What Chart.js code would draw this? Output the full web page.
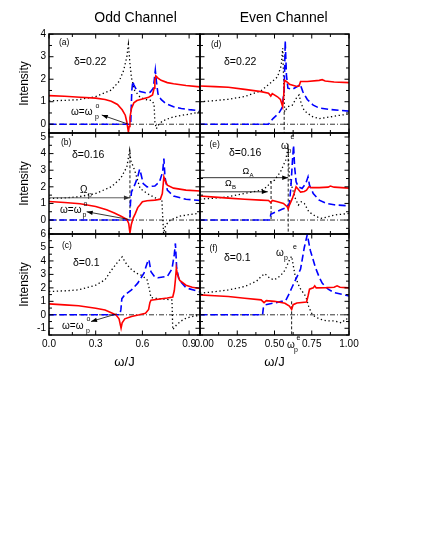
<!DOCTYPE html>
<html>
<head>
<meta charset="utf-8">
<script src="https://cdn.jsdelivr.net/npm/chart.js@4.4.0/dist/chart.umd.min.js"></script>
<style>
  body { margin: 0; background: #fff; }
  #wrap { position: relative; width: 425px; height: 550px; }
  #wrap canvas { position: absolute; left: 0; top: 0; }
</style>
</head>
<body>
<div id="wrap">
  <canvas id="pa" width="425" height="550"></canvas>
  <canvas id="pb" width="425" height="550"></canvas>
  <canvas id="pc" width="425" height="550"></canvas>
  <canvas id="pd" width="425" height="550"></canvas>
  <canvas id="pe" width="425" height="550"></canvas>
  <canvas id="pf" width="425" height="550"></canvas>
</div>
<script>
// ---- data: [omega/J, intensity] ----
// odd channel, delta = 0.22
const aRed = [[0,1.27],[0.1,1.24],[0.2,1.2],[0.3,1.16],[0.36,1.1],[0.4,1.02],[0.44,0.88],[0.47,0.64],[0.49,0.4],[0.5,0.1],[0.51,-0.35],[0.515,-0.1],[0.52,0.3],[0.53,0.7],[0.545,0.95],[0.565,1.05],[0.6,1.12],[0.64,1.2],[0.665,1.3],[0.675,1.6],[0.68,1.95],[0.686,2.15],[0.7,2.05],[0.72,1.95],[0.76,1.85],[0.8,1.8],[0.88,1.72],[0.97,1.66]];
const aBlue = [[0,0],[0.525,0],[0.527,0.5],[0.532,1.5],[0.538,1.9],[0.545,1.75],[0.56,1.55],[0.585,1.45],[0.62,1.4],[0.65,1.42],[0.67,1.6],[0.683,2.4],[0.69,1.9],[0.7,1.35],[0.72,1.1],[0.75,0.92],[0.8,0.78],[0.85,0.7],[0.9,0.65],[0.97,0.6]];
const aDot = [[0,1.04],[0.1,1.06],[0.19,1.09],[0.3,1.23],[0.4,1.52],[0.45,1.9],[0.48,2.4],[0.5,3.0],[0.51,3.55],[0.52,2.7],[0.53,2.05],[0.55,1.5],[0.585,1.2],[0.62,1.1],[0.66,1.05],[0.675,0.9],[0.68,0.1],[0.69,-0.2],[0.7,-0.05],[0.73,0.15],[0.8,0.33],[0.9,0.45],[0.97,0.55]];

// odd channel, delta = 0.16
const bRed = [[0,1.12],[0.1,1.06],[0.2,0.98],[0.3,0.82],[0.37,0.62],[0.42,0.42],[0.46,0.24],[0.5,0.04],[0.512,-0.2],[0.52,-0.78],[0.528,-0.3],[0.54,0.1],[0.555,0.4],[0.57,0.75],[0.585,0.92],[0.6,1.1],[0.63,1.16],[0.68,1.2],[0.715,1.25],[0.728,1.6],[0.738,2.6],[0.745,2.4],[0.76,2.1],[0.8,1.92],[0.88,1.8],[0.97,1.75]];
const bBlue = [[0,0],[0.52,0],[0.523,1.0],[0.53,1.7],[0.55,2.1],[0.57,2.6],[0.582,3.05],[0.59,2.8],[0.605,2.2],[0.63,2.0],[0.68,2.05],[0.71,2.3],[0.73,2.9],[0.738,3.7],[0.745,2.6],[0.76,1.8],[0.8,1.45],[0.88,1.25],[0.97,1.18]];
const bDot = [[0,1.3],[0.1,1.33],[0.19,1.4],[0.3,1.6],[0.4,2.0],[0.46,2.5],[0.5,3.2],[0.518,4.2],[0.525,3.6],[0.55,3.0],[0.585,1.9],[0.63,1.6],[0.69,1.3],[0.725,1.2],[0.736,-0.8],[0.75,-0.3],[0.78,0.0],[0.84,0.24],[0.97,0.42]];
const bMark = [[0.52,4.2],[0.52,0]];

// odd channel, delta = 0.1
const cRed = [[0,0.81],[0.1,0.74],[0.19,0.67],[0.3,0.49],[0.36,0.35],[0.4,0.15],[0.43,0.0],[0.45,-0.3],[0.463,-0.99],[0.47,-0.6],[0.487,-0.3],[0.53,-0.12],[0.58,0.0],[0.62,0.12],[0.64,0.4],[0.648,0.9],[0.655,1.08],[0.7,1.16],[0.76,1.25],[0.795,1.32],[0.805,1.8],[0.812,2.6],[0.818,3.45],[0.825,3.0],[0.84,2.55],[0.88,2.2],[0.92,2.05],[0.97,1.95]];
const cBlue = [[0,0],[0.455,0],[0.462,0.4],[0.468,1.2],[0.487,1.48],[0.53,1.85],[0.57,2.35],[0.61,3.1],[0.635,4.0],[0.642,4.1],[0.655,3.2],[0.68,2.8],[0.7,2.75],[0.76,2.85],[0.79,3.4],[0.805,4.5],[0.812,5.3],[0.82,3.5],[0.835,2.6],[0.88,2.0],[0.97,1.7]];
const cDot = [[0,1.73],[0.1,1.78],[0.19,1.85],[0.3,2.2],[0.36,2.6],[0.4,3.3],[0.44,3.9],[0.47,4.3],[0.49,3.9],[0.52,3.46],[0.56,3.1],[0.6,2.9],[0.63,2.6],[0.645,1.9],[0.655,1.28],[0.7,1.2],[0.75,1.15],[0.79,1.1],[0.795,-1.1],[0.82,-0.74],[0.85,-0.45],[0.88,-0.25],[0.93,-0.1],[0.97,-0.05]];

// even channel, delta = 0.22
const dRed = [[0,1.7],[0.1,1.67],[0.19,1.64],[0.3,1.55],[0.41,1.45],[0.46,1.38],[0.475,1.25],[0.485,1.36],[0.52,1.22],[0.54,1.1],[0.555,0.78],[0.562,1.3],[0.567,1.95],[0.58,1.9],[0.6,1.78],[0.65,1.68],[0.665,1.7],[0.675,1.9],[0.72,1.9],[0.8,1.95],[0.82,1.98],[0.84,1.92],[0.9,1.88],[1.0,1.85]];
const dBlue = [[0,0],[0.46,0],[0.49,0.25],[0.53,0.5],[0.55,0.72],[0.565,1.5],[0.572,3.7],[0.58,2.2],[0.59,1.6],[0.62,1.55],[0.66,1.7],[0.672,1.78],[0.69,1.45],[0.72,1.1],[0.76,0.85],[0.8,0.72],[0.88,0.65],[1.0,0.58]];
const dDot = [[0,1.0],[0.1,1.05],[0.19,1.11],[0.3,1.23],[0.41,1.49],[0.47,1.82],[0.52,2.1],[0.545,2.6],[0.555,3.38],[0.568,0.55],[0.59,0.78],[0.62,0.85],[0.65,1.2],[0.665,1.3],[0.68,0.9],[0.7,0.6],[0.75,0.35],[0.8,0.25],[0.85,0.3],[0.92,0.38],[1.0,0.45]];
const dMark = [[0.565,0.55],[0.565,-0.4]];

// even channel, delta = 0.16
const eRed = [[0,1.45],[0.1,1.38],[0.19,1.32],[0.3,1.25],[0.41,1.2],[0.46,1.18],[0.475,1.05],[0.485,1.18],[0.52,1.1],[0.56,1.0],[0.585,0.8],[0.592,0.66],[0.6,0.9],[0.62,1.3],[0.635,1.7],[0.645,2.0],[0.655,1.9],[0.675,1.68],[0.7,1.72],[0.715,1.8],[0.73,2.0],[0.75,1.95],[0.8,1.95],[0.86,1.98],[0.875,2.05],[0.9,1.98],[1.0,1.92]];
const eBlue = [[0,0],[0.47,0],[0.475,0.35],[0.5,0.45],[0.55,0.65],[0.58,0.75],[0.6,1.0],[0.61,2.0],[0.62,3.5],[0.628,4.5],[0.635,3.2],[0.645,2.3],[0.66,2.0],[0.685,1.9],[0.71,2.2],[0.725,2.6],[0.735,2.1],[0.76,1.6],[0.8,1.2],[0.85,1.0],[0.9,0.92],[1.0,0.85]];
const eDot = [[0,1.26],[0.1,1.32],[0.19,1.4],[0.3,1.6],[0.41,1.8],[0.45,2.0],[0.475,2.3],[0.5,2.4],[0.54,2.9],[0.575,3.6],[0.59,4.3],[0.6,2.6],[0.62,1.9],[0.64,1.3],[0.66,0.9],[0.68,1.1],[0.7,1.0],[0.73,0.5],[0.78,0.2],[0.82,0.1],[0.9,0.3],[1.0,0.4]];
const eMarkA = [[0.592,4.3],[0.592,-0.85]];
const eMarkB = [[0.477,2.35],[0.477,0]];

// even channel, delta = 0.1
const fRed = [[0,1.48],[0.1,1.42],[0.19,1.36],[0.3,1.23],[0.41,1.11],[0.43,0.9],[0.445,1.05],[0.5,1.0],[0.57,0.86],[0.6,0.65],[0.615,0.4],[0.625,0.75],[0.65,0.88],[0.715,0.95],[0.725,1.4],[0.735,1.9],[0.76,2.0],[0.77,2.15],[0.78,2.0],[0.85,2.02],[0.9,2.05],[0.92,2.15],[0.94,2.05],[1.0,2.0]];
const fBlue = [[0,0],[0.42,0],[0.425,0.5],[0.44,0.75],[0.5,0.88],[0.55,1.0],[0.575,1.05],[0.6,1.6],[0.62,2.1],[0.65,2.8],[0.675,3.4],[0.7,5.0],[0.72,5.95],[0.74,4.8],[0.775,3.5],[0.8,2.8],[0.82,2.35],[0.86,1.9],[0.9,1.65],[1.0,1.4]];
const fDot = [[0,1.6],[0.1,1.72],[0.19,1.85],[0.3,2.1],[0.38,2.5],[0.41,2.84],[0.435,3.05],[0.47,2.7],[0.5,2.6],[0.54,2.9],[0.57,3.3],[0.6,4.07],[0.615,4.35],[0.64,2.8],[0.67,2.0],[0.71,1.36],[0.73,0.6],[0.75,0.1],[0.77,-0.12],[0.8,-0.3],[0.85,-0.45],[0.9,-0.45],[0.95,-0.6],[0.98,-0.3],[1.0,-0.35]];
const fMark = [[0.615,1.0],[0.615,-1.5]];

const zeroLine = [[0,0],[1,0]];

// ---- styles ----
const FONT = "'Liberation Sans', Arial, Helvetica, sans-serif";
Chart.defaults.font.family = FONT;
Chart.defaults.color = '#000';

const RED = { borderColor: '#ff0000', borderWidth: 1.6 };
const BLUE = { borderColor: '#0000ff', borderWidth: 1.6, borderDash: [7, 3.5] };
const DOT = { borderColor: '#000', borderWidth: 1.3, borderDash: [1.3, 2.6] };
const DASHDOT = { borderColor: '#000', borderWidth: 0.8, borderDash: [5, 2, 1, 2] };
const MARK = { borderColor: '#000', borderWidth: 0.9, borderDash: [3, 2] };

function series(pts, style) {
  return Object.assign({ data: pts.map(p => ({ x: p[0], y: p[1] })), pointRadius: 0, tension: 0, fill: false }, style);
}

// frame, inward ticks, labels and arrows
function deco(notes, arrows) {
  return {
    id: 'deco',
    afterDatasetsDraw(chart) {
      const { ctx, chartArea: a, scales: { x, y } } = chart;
      const halfSteps = s => {
        const major = s.ticks.map(t => t.value);
        const step = major[1] - major[0];
        const out = [];
        for (let v = major[0] - step / 2; v <= s.max + 1e-9; v += step / 2) {
          if (v < s.min - 1e-9) continue;
          const isMajor = major.some(m => Math.abs(m - v) < 1e-6);
          out.push([v, isMajor ? 4.5 : 3]);
        }
        return out;
      };
      ctx.save();
      ctx.strokeStyle = '#000';
      ctx.lineWidth = 1;
      ctx.beginPath();
      halfSteps(x).forEach(([v, len]) => {
        const p = x.getPixelForValue(v);
        ctx.moveTo(p, a.bottom); ctx.lineTo(p, a.bottom - len);
        ctx.moveTo(p, a.top); ctx.lineTo(p, a.top + len);
      });
      halfSteps(y).forEach(([v, len]) => {
        const p = y.getPixelForValue(v);
        ctx.moveTo(a.left, p); ctx.lineTo(a.left + len, p);
        ctx.moveTo(a.right, p); ctx.lineTo(a.right - len, p);
      });
      ctx.stroke();
      ctx.lineWidth = 1.5;
      ctx.strokeRect(a.left, a.top, a.right - a.left, a.bottom - a.top);

      arrows.forEach(ar => {
        const x0 = x.getPixelForValue(ar.from[0]), y0 = y.getPixelForValue(ar.from[1]);
        const x1 = x.getPixelForValue(ar.to[0]), y1 = y.getPixelForValue(ar.to[1]);
        const ang = Math.atan2(y1 - y0, x1 - x0);
        ctx.strokeStyle = ar.c || '#000';
        ctx.fillStyle = ar.c || '#000';
        ctx.lineWidth = 0.8;
        ctx.beginPath(); ctx.moveTo(x0, y0); ctx.lineTo(x1, y1); ctx.stroke();
        ctx.beginPath();
        ctx.moveTo(x1, y1);
        ctx.lineTo(x1 - 6 * Math.cos(ang) + 2.2 * Math.sin(ang), y1 - 6 * Math.sin(ang) - 2.2 * Math.cos(ang));
        ctx.lineTo(x1 - 6 * Math.cos(ang) - 2.2 * Math.sin(ang), y1 - 6 * Math.sin(ang) + 2.2 * Math.cos(ang));
        ctx.closePath(); ctx.fill();
      });

      ctx.fillStyle = '#000';
      ctx.textBaseline = 'middle';
      notes.forEach(n => {
        ctx.font = n.s + 'px ' + FONT;
        ctx.textAlign = n.al || 'left';
        ctx.fillText(n.t, n.x, n.y);
      });
      ctx.restore();
    }
  };
}

const COLS = [[49, 200, 0.97, 0.3, 1], [200, 349, 1, 0.25, 2]];
const ROWS = [[34, 133], [133, 234], [234, 335]];

const PANELS = [
  { id: 'pa', col: 0, row: 0, y: [-0.39, 4.01], red: aRed, blue: aBlue, dot: aDot, marks: [],
    notes: [{ t: 'Odd Channel', x: 135.5, y: 18, s: 14, al: 'center' }, { t: '(a)', x: 59, y: 43, s: 8.5 }, { t: 'δ=0.22', x: 74, y: 62, s: 10.5 },
            { t: 'ω=ω', x: 71, y: 112, s: 10 }, { t: 'p', x: 95, y: 117.5, s: 7 }, { t: 'o', x: 95.5, y: 106, s: 7 }],
    arrows: [{ from: [0.506, 0.01], to: [0.339, 0.41] }] },
  { id: 'pb', col: 0, row: 1, y: [-0.84, 5.24], red: bRed, blue: bBlue, dot: bDot, marks: [bMark],
    notes: [{ t: '(b)', x: 61, y: 142.5, s: 8.5 }, { t: 'δ=0.16', x: 72, y: 155, s: 10.5 },
            { t: 'Ω', x: 80, y: 190.5, s: 10 }, { t: 'p', x: 88, y: 195.5, s: 7 },
            { t: 'ω=ω', x: 60, y: 210, s: 10 }, { t: 'p', x: 82.5, y: 215.5, s: 7 }, { t: 'o', x: 83.5, y: 204.5, s: 7 }],
    arrows: [{ from: [0, 1.34], to: [0.52, 1.34], c: '#333' }, { from: [0.51, 0.04], to: [0.242, 0.5] }] },
  { id: 'pc', col: 0, row: 2, y: [-1.5, 6], red: cRed, blue: cBlue, dot: cDot, marks: [],
    notes: [{ t: '(c)', x: 62, y: 246, s: 8.5 }, { t: 'δ=0.1', x: 73, y: 263, s: 10.5 },
            { t: 'ω=ω', x: 62, y: 326, s: 10 }, { t: 'p', x: 86, y: 331, s: 7 }, { t: 'o', x: 86.5, y: 319.5, s: 7 }],
    arrows: [{ from: [0.435, 0.07], to: [0.27, -0.5] }] },
  { id: 'pd', col: 1, row: 0, y: [-0.39, 4.01], red: dRed, blue: dBlue, dot: dDot, marks: [dMark],
    notes: [{ t: 'Even Channel', x: 283.7, y: 18, s: 14, al: 'center' }, { t: '(d)', x: 211, y: 44.5, s: 8.5 }, { t: 'δ=0.22', x: 224, y: 62, s: 10.5 }],
    arrows: [] },
  { id: 'pe', col: 1, row: 1, y: [-0.84, 5.24], red: eRed, blue: eBlue, dot: eDot, marks: [eMarkA, eMarkB],
    notes: [{ t: '(e)', x: 209.5, y: 145, s: 8.5 }, { t: 'δ=0.16', x: 229, y: 153.5, s: 10.5 },
            { t: 'Ω', x: 242.5, y: 172, s: 9 }, { t: 'A', x: 249.5, y: 175.5, s: 6 },
            { t: 'Ω', x: 225, y: 183.5, s: 9 }, { t: 'B', x: 232, y: 187, s: 6 },
            { t: 'ω', x: 281, y: 146, s: 10 }, { t: 'p', x: 287.5, y: 151, s: 7 }, { t: 'e', x: 290.5, y: 137, s: 7 }],
    arrows: [{ from: [0, 2.55], to: [0.592, 2.55] }, { from: [0, 1.7], to: [0.455, 1.7] }] },
  { id: 'pf', col: 1, row: 2, y: [-1.5, 6], red: fRed, blue: fBlue, dot: fDot, marks: [fMark],
    notes: [{ t: '(f)', x: 209.5, y: 248.5, s: 8.5 }, { t: 'δ=0.1', x: 224, y: 258.5, s: 10.5 },
            { t: 'ω', x: 276, y: 253, s: 10 }, { t: 'p', x: 284, y: 258.5, s: 7 }, { t: 'e', x: 293, y: 247.5, s: 7 },
            { t: 'ω', x: 287, y: 345, s: 10 }, { t: 'p', x: 294, y: 350.5, s: 7 }, { t: 'e', x: 296.5, y: 338.5, s: 7 }],
    arrows: [] }
];

PANELS.forEach(p => {
  const [left, right, xMax, xStep, xDec] = COLS[p.col];
  const [top, bottom] = ROWS[p.row];
  const isLeft = p.col === 0, isBottom = p.row === 2;
  const datasets = [series(p.red, RED), series(p.blue, BLUE), series(p.dot, DOT)]
    .concat(p.marks.map(m => series(m, MARK)))
    .concat([series(zeroLine, DASHDOT)]);

  new Chart(document.getElementById(p.id), {
    type: 'line',
    data: { datasets },
    options: {
      responsive: false,
      animation: false,
      events: [],
      devicePixelRatio: 1,
      layout: { autoPadding: false, padding: { left: isLeft ? 0 : left, right: 425 - right, top: top, bottom: isBottom ? 0 : 550 - bottom } },
      plugins: { legend: { display: false }, tooltip: { enabled: false } },
      scales: {
        x: {
          type: 'linear', min: 0, max: xMax,
          grid: { display: false, drawTicks: false }, border: { display: false },
          ticks: { display: isBottom, stepSize: xStep, includeBounds: false, autoSkip: false, maxRotation: 0, padding: 3,
                   font: { size: 10 }, callback: (v, i) => (i === 0 && p.col === 1 ? '   ' : '') + v.toFixed(xDec) },
          title: { display: isBottom, text: 'ω/J', font: { size: 13 }, padding: { top: 0, bottom: 180.2 } },
          afterFit: s => { s.height = isBottom ? 550 - bottom : 0; }
        },
        y: {
          min: p.y[0], max: p.y[1],
          grid: { display: false, drawTicks: false }, border: { display: false },
          ticks: { display: isLeft, stepSize: 1, includeBounds: false, autoSkip: false, padding: 3, font: { size: 10 } },
          title: { display: isLeft, text: 'Intensity', font: { size: 12 }, padding: { top: 17.8, bottom: 0 } },
          afterFit: s => { s.width = isLeft ? left : 0; }
        }
      }
    },
    plugins: [deco(p.notes, p.arrows)]
  });
});
</script>
</body>
</html>
